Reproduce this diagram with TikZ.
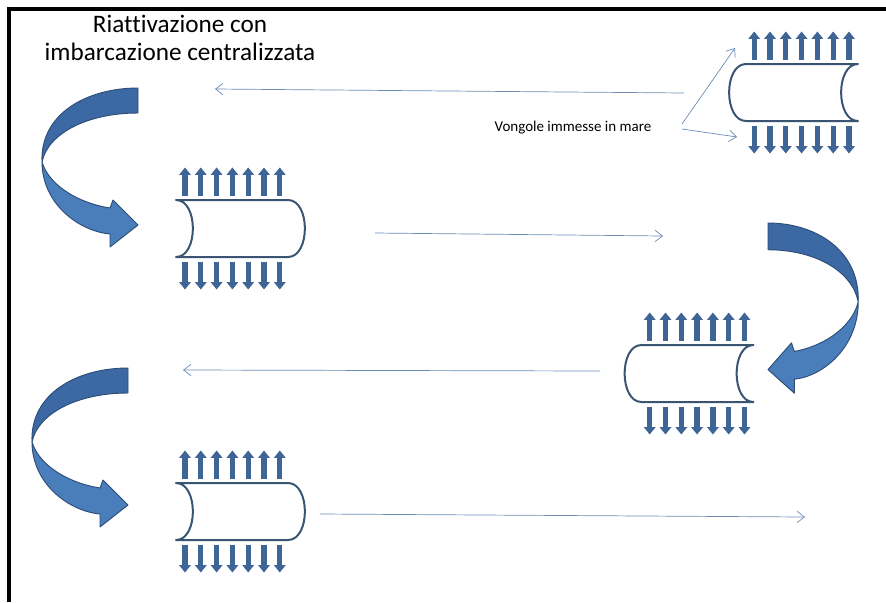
\documentclass[tikz,border=0pt]{standalone}
\usepackage{fontspec}
\setmainfont{Carlito}[Ligatures=NoCommon]
\usetikzlibrary{arrows.meta}

\definecolor{pipeline}{HTML}{3A5573}
\definecolor{flowblue}{HTML}{3F6596}
\definecolor{turnfill}{HTML}{4A7EBB}
\definecolor{turndark}{HTML}{3C69A3}
\definecolor{turnedge}{HTML}{2C4D78}
\definecolor{thinline}{HTML}{6A8CB5}

\begin{document}
\begin{tikzpicture}[
    x=0.03cm, y=-0.03cm,
    frame/.style={line width=2.6pt, black},
    link/.style={draw=thinline, line width=0.6pt, -{Straight Barb[length=2.2mm, width=3.4mm]}},
    flow/.style={draw=flowblue, line width=1.6mm, -{Triangle[length=2.2mm, width=3.4mm]}},
    pipebody/.style={draw=pipeline, line width=1.7pt, fill=white, line join=round},
    turnpart/.style={draw=turnedge, line width=0.8pt, line join=round},
    title/.style={font=\fontsize{21.5}{24}\selectfont, align=center, inner sep=0pt},
    note/.style={font=\fontsize{12.8}{15}\selectfont, inner sep=0pt},
    pipe/.pic={
      \draw[pipebody] (-64.5,-28.5) -- (47.5,-28.5)
        .. controls (70,-28.5) and (70,28.5) .. (47.5,28.5) -- (-64.5,28.5)
        .. controls (-42,28.5) and (-42,-28.5) .. cycle;
      \foreach \i in {0,...,6} {
        \draw[flow] (-55.5+15.8*\i,-33) -- (-55.5+15.8*\i,-61);
        \draw[flow] (-55.5+15.8*\i,33) -- (-55.5+15.8*\i,61);
      }
    },
    turn/.pic={
      % upper half of the ribbon, then the half with the head
      \filldraw[turnpart, fill=turndark] (0,0) .. controls (-50,0) and (-98,25) .. (-96,74)
        .. controls (-90,45) and (-50,25) .. (0,25) -- cycle;
      \filldraw[turnpart, fill=turnfill] (-96,74) .. controls (-96,115) and (-60,143) .. (-28,146)
        -- (-28,159) -- (0,137) -- (-25,112) -- (-28,120)
        .. controls (-55,116) and (-88,100) .. (-96,74) -- cycle;
    },
  ]
  \useasboundingbox (0,0) rectangle (886,602);
  \draw[frame] (886,9) -- (9,9) -- (9,602);

  \node[title] (title) at (180,38) {Riattivazione con\\imbarcazione centralizzata};
  \node[note] (note) at (573,128) {Vongole immesse in mare};

  % pipes
  \pic[xscale=-1] (p1) at (793.5,92.5) {pipe};
  \pic (p2) at (240.5,228.5) {pipe};
  \pic[xscale=-1] (p3) at (689,373.5) {pipe};
  \pic (p4) at (240.5,511.5) {pipe};

  % turning arrows
  \pic (t1) at (138,88) {turn};
  \pic[xscale=-0.94, yscale=1.07] (t2) at (768,223) {turn};
  \pic (t3) at (128,368) {turn};

  % thin links
  \coordinate (a1) at (684,93);
  \coordinate (a2) at (215,89);
  \coordinate (b1) at (375,233);
  \coordinate (b2) at (663,236);
  \coordinate (c1) at (600,371);
  \coordinate (c2) at (183,370);
  \coordinate (d1) at (320,514);
  \coordinate (d2) at (805,517);
  \coordinate (v0) at (682,124);
  \coordinate (v1) at (735,48);
  \coordinate (v2) at (737,137);
  \draw[link] (a1) -- (a2);
  \draw[link] (b1) -- (b2);
  \draw[link] (c1) -- (c2);
  \draw[link] (d1) -- (d2);
  \draw[link] (v0) -- (v1);
  \draw[link] ([yshift=-0.15cm]v0) -- (v2);
\end{tikzpicture}
\end{document}
